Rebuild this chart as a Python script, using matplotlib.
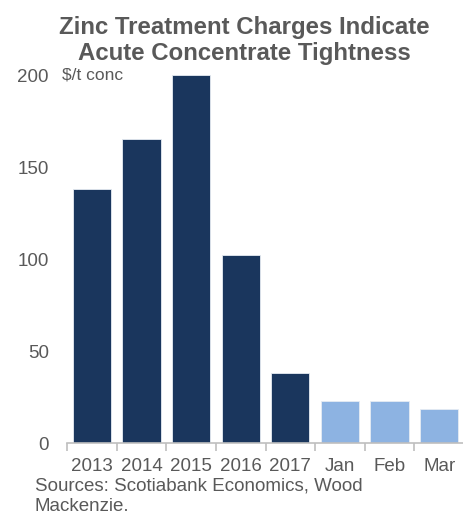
import matplotlib.pyplot as plt
import numpy as np

plt.rcParams['font.family'] = ['Liberation Sans', 'DejaVu Sans']

labels = ['2013', '2014', '2015', '2016', '2017', 'Jan', 'Feb', 'Mar']
charges = [138, 165, 200, 102, 38, 23, 23, 18.5]
bar_colors = ['#1a365d'] * 5 + ['#8db3e2'] * 3
yticks = [0, 50, 100, 150, 200]

grey = '#595959'

fig = plt.figure(figsize=(4.64, 5.17), dpi=100)
ax = fig.add_axes([0.1444, 0.1431, 0.8556, 0.7118])

x = np.arange(len(labels))
ax.bar(x, charges, width=0.77, color=bar_colors, edgecolor='#e6ecf3', linewidth=0.6)

ax.set_xlim(-0.5, 7.35)
ax.set_ylim(0, 200)
ax.set_xticks(x)
ax.set_xticklabels(labels)
ax.set_xticks(np.arange(-0.5, 8, 1), minor=True)
ax.tick_params(axis='x', which='major', length=0, pad=11, labelsize=13.5, labelcolor=grey)
ax.tick_params(axis='x', which='minor', length=6, width=1.2, color='#bfbfbf', direction='out')
ax.set_yticks(yticks)
ax.tick_params(axis='y', length=0, pad=13, labelsize=13.5, labelcolor=grey)

for side in ['top', 'right', 'left']:
    ax.spines[side].set_visible(False)
ax.spines['bottom'].set_color('#bfbfbf')
ax.spines['bottom'].set_linewidth(1.2)

ax.text(-0.6, 200, '$/t conc', fontsize=12.5, color=grey, va='center', ha='left')

fig.text(0.527, 0.922, 'Zinc Treatment Charges Indicate\nAcute Concentrate Tightness',
         ha='center', va='center', fontsize=17.3, fontweight='bold', color=grey,
         linespacing=1.17)
fig.text(0.075, 0.004, 'Sources: Scotiabank Economics, Wood\nMackenzie.',
         ha='left', va='bottom', fontsize=13.5, color=grey, linespacing=1.25)

fig.savefig('out.png', dpi=100)
